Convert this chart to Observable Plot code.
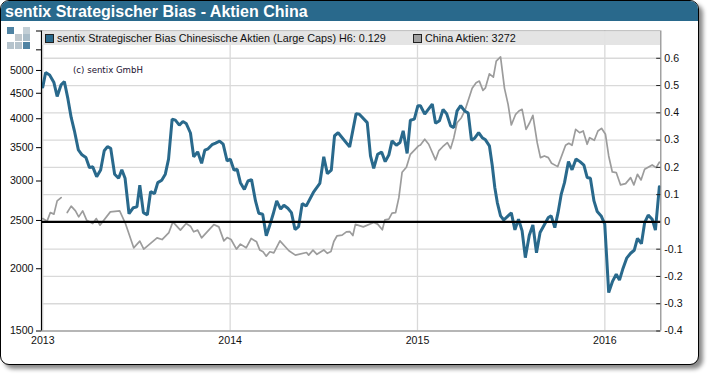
<!DOCTYPE html>
<html><head><meta charset="utf-8">
<script src="https://cdn.jsdelivr.net/npm/d3@7"></script>
<script src="https://cdn.jsdelivr.net/npm/@observablehq/plot@0.6"></script>
<style>
html,body{margin:0;padding:0;background:#fff;width:710px;height:376px;overflow:hidden}
#frame{position:absolute;left:0;top:0;width:697px;height:363px;border:1.5px solid #000;border-radius:9px;background:#fff;box-shadow:4px 4px 4px #8a8a8a;overflow:hidden}
#title{position:absolute;left:0;top:0;right:0;height:19.5px;background:#29698c;color:#fff;font:bold 16px "Liberation Sans",Arial,sans-serif;line-height:21px;padding-left:4px;white-space:nowrap}
#plot{position:absolute;left:0;top:0}
#plot svg{display:block;background:transparent;max-width:none}
#band{position:absolute;left:41.5px;top:31px;width:618px;height:14px;background:rgba(226,226,226,.92)}
.lg{position:absolute;top:31px;height:14px;font:10.8px "Liberation Sans",Arial,sans-serif;line-height:15px;color:#111;white-space:nowrap}
.sw{position:absolute;top:34px;width:7px;height:7px;border:1px solid #222}
#copy{position:absolute;left:73px;top:65px;font:8.6px "DejaVu Sans",sans-serif;color:#201030;white-space:nowrap}
.lo{position:absolute;width:6.5px;height:6.5px}
</style></head><body>
<div id="frame"><div id="title">sentix Strategischer Bias - Aktien China</div></div>
<div id="plot"></div>
<div id="band"></div>
<div class="sw" style="left:45px;background:#29698c"></div>
<div class="lg" style="left:57px">sentix Strategischer Bias Chinesische Aktien (Large Caps) H6: 0.129</div>
<div class="sw" style="left:413px;background:#a0a0a0"></div>
<div class="lg" style="left:425px">China Aktien: 3272</div>
<div id="copy">(c) sentix GmbH</div>
<div class="lo" style="left:7px;top:27px;background:#4f83a3"></div>
<div class="lo" style="left:23px;top:27px;background:#c3cfd6"></div>
<div class="lo" style="left:15px;top:34px;background:#c0c8cd"></div>
<div class="lo" style="left:23px;top:34px;background:#a9bcc8"></div>
<div class="lo" style="left:7px;top:42px;background:#b5c3cc"></div>
<div class="lo" style="left:15px;top:42px;background:#b5c3cc"></div>
<div class="lo" style="left:23px;top:42px;background:#4f83a3"></div>
<script>
// [weeks since 2013-01-01, value]
const biasSeries = [[0,.495],[.8,.548],[1.9,.539],[3.1,.511],[4,.46],[5.1,.503],[6,.515],[7,.451],[7.9,.383],[8.8,.334],[9.9,.264],[10.9,.246],[12,.236],[13,.199],[13.9,.202],[15,.166],[16.1,.19],[17.1,.261],[18,.276],[18.9,.27],[20,.175],[21.1,.16],[22,.191],[22.9,.16],[24,.03],[25.2,.052],[26.2,.055],[27,.135],[28,.034],[29.1,.026],[30,.111],[31.1,.104],[32,.144],[33.1,.153],[34.1,.175],[35,.23],[36,.377],[36.9,.373],[38,.355],[39,.368],[39.9,.361],[41.1,.326],[42,.239],[43.1,.257],[44.2,.215],[45.1,.263],[46,.268],[47.1,.283],[48.1,.289],[49.2,.296],[50.2,.285],[51.3,.224],[52.2,.23],[53.2,.19],[54.1,.193],[55,.144],[56.1,.119],[57.1,.15],[58.1,.155],[59.2,.077],[60.1,.032],[61.2,.028],[62.2,-.051],[63.2,-.011],[64.1,.028],[65.1,.077],[66.2,.047],[67.1,.061],[68.2,.05],[69.2,.034],[70.2,-.028],[71.2,-.017],[72.2,.067],[73.3,.058],[75.3,.108],[77.1,.141],[78.2,.239],[79.2,.177],[80.3,.19],[81.2,.316],[82.2,.327],[85.4,.275],[87.2,.397],[88.1,.395],[90.3,.364],[91.2,.242],[92.1,.196],[93.2,.248],[94.3,.256],[95.3,.221],[96.3,.245],[97.2,.297],[98.4,.281],[99.4,.291],[100.3,.334],[101.4,.251],[102.3,.373],[103.4,.377],[104.4,.426],[105.1,.426],[106.3,.395],[108.4,.432],[109.3,.362],[110.4,.371],[111.4,.412],[112.4,.397],[113.5,.352],[114.4,.346],[115.3,.407],[116.3,.426],[117.4,.407],[118.4,.399],[119.3,.3],[120.2,.307],[121.3,.327],[122.3,.309],[123.2,.301],[124.3,.279],[125.1,.206],[125.8,.126],[126.5,.071],[127.4,.022],[128.3,.007],[129.5,.022],[130.4,.033],[131.4,-.029],[132.4,.01],[133.4,-.033],[134.3,-.131],[135.4,-.049],[136.4,-.011],[137.4,-.113],[138.4,-.039],[139.4,-.015],[140.7,.016],[141.5,.022],[142.5,-.021],[143.4,.034],[144.3,.102],[145.2,.144],[146.3,.221],[147.3,.191],[148.4,.231],[149.5,.221],[150.6,.208],[151.5,.163],[152.4,.16],[153.4,.077],[154.3,.038],[155.4,.022],[156.4,-.008],[157.5,-.259],[158.6,-.217],[159.6,-.192],[160.5,-.213],[161.4,-.174],[162.5,-.133],[163.6,-.115],[164.6,-.104],[165.5,-.06],[166.6,-.08],[167.5,-.003],[168.5,.025],[169.6,.01],[170.5,-.03],[171.6,.129]];
const chinaSeries = [[0,2522],[1.2,2492],[2.1,2593],[3.1,2574],[4,2737],[5.1,2778],[6,null],[6.8,2593],[7.9,2671],[9.1,2613],[10,2542],[11.1,2613],[12.2,2503],[13.9,2465],[14.9,2522],[15.9,2446],[18.8,2601],[21.4,2613],[23,2465],[25.3,2203],[27,2272],[28.1,2190],[31.8,2307],[33.2,2289],[35.1,2364],[36.2,2484],[38.3,2391],[39.9,2465],[41.1,2435],[42,2372],[43.1,2391],[44.2,2307],[47.6,2453],[49,2427],[50.4,2275],[51.3,2310],[52.4,2289],[53.9,2190],[55,2241],[56.6,2203],[58,2300],[59.5,2265],[60.4,2180],[61.3,2163],[62.2,2120],[63.2,2163],[64.3,2152],[66,2275],[68.5,2173],[70.3,2130],[73.4,2156],[74,2130],[75.2,2180],[76.3,2138],[78.2,2181],[79.2,2148],[80.2,2165],[81,2268],[81.9,2329],[83.3,2336],[84.5,2372],[85.4,2375],[86.3,2332],[87,2455],[89.2,2427],[92.1,2476],[93.2,2458],[94.5,2394],[95.2,2507],[96.3,2515],[97.2,2586],[98.2,2593],[99.1,2778],[100,3124],[101.2,3197],[102.3,3394],[104.5,3526],[105.1,3543],[106.3,3638],[107.4,3555],[109.3,3307],[110.2,3447],[111.3,3515],[112.6,3581],[113.5,3484],[114.4,3665],[115.3,3927],[116.5,4019],[117.6,4178],[119.5,4603],[120.6,4723],[121.5,4760],[122.5,4561],[123.2,4615],[124.3,4923],[125.4,4848],[126.2,5220],[127.4,5325],[128.5,4603],[129.5,4275],[130.4,3886],[131.6,4083],[132.5,4146],[133.4,4178],[134.5,3809],[135.5,3927],[136.4,4064],[137.6,3581],[138.5,3342],[139.6,3368],[140.7,3342],[141.6,3256],[143.3,3206],[145.5,3538],[146.4,3571],[147.3,3538],[148.3,3809],[149.4,3750],[150.4,3780],[151.5,3555],[152.2,3665],[153.5,3621],[154.5,3780],[155.5,3827],[156.6,3722],[157.5,3368],[158.5,3128],[159.6,3119],[160.8,2946],[162.2,2964],[163.6,3047],[164.5,2946],[165.5,3095],[166.5,3015],[167.5,3167],[169.6,3231],[170.7,3191],[171.6,3272]];
const leftTicks = [1500,2000,2500,3000,3500,4000,4500,5000,5500,6000];
const leftLabelled = [1500,2000,2500,3000,3500,4000,4500,5000];
const rightTicks = [-0.4,-0.3,-0.2,-0.1,0,0.1,0.2,0.3,0.4,0.5,0.6];
const yearTicks = [2013,2014,2015,2016];

const weekDate = w => new Date(Date.UTC(2013,0,1) + w*7*864e5);
const xStart = new Date(Date.UTC(2012,11,29,12)), xEnd = new Date(Date.UTC(2016,3,19));
const years = yearTicks.map(y => new Date(Date.UTC(y,0,1)));
// the index runs on a log scale that shares the plot with the linear bias scale
const toBias = d3.scaleLog([1500,6000],[-0.4,0.7]);
const bias = biasSeries.map(([w,v]) => ({date:weekDate(w), v}));
const china = chinaSeries.map(([w,p]) => ({date:weekDate(w), v:p==null?NaN:toBias(p)}));
const font = '"Liberation Sans",Arial,sans-serif';

const chart = Plot.plot({
  width:710, height:376,
  marginLeft:41, marginRight:49.7, marginTop:30.5, marginBottom:45.5,
  style:{background:"transparent", fontFamily:font, fontSize:"10.6px", color:"#111"},
  x:{type:"utc", domain:[xStart,xEnd], label:null},
  y:{domain:[-0.4,0.7], label:null},
  marks:[
    Plot.gridX(years,{stroke:"#d9d9d9",strokeOpacity:1,strokeWidth:1.3}),
    Plot.gridY(rightTicks,{stroke:"#d9d9d9",strokeOpacity:1,strokeWidth:1.3}),
    Plot.line(china,{x:"date",y:"v",stroke:"#9c9c9c",strokeWidth:1.7,curve:"linear"}),
    Plot.line(bias,{x:"date",y:"v",stroke:"#29698c",strokeWidth:3,curve:"linear",strokeLinejoin:"miter"}),
    Plot.ruleY([0],{stroke:"#000",strokeWidth:2.4}),
    Plot.ruleY([-0.4,0.7],{stroke:"#8a8a8a",strokeWidth:1.2}),
    Plot.ruleX([xEnd],{stroke:"#8a8a8a",strokeWidth:1.2}),
    Plot.ruleX([xStart],{stroke:"#000",strokeWidth:1.2}),
    Plot.ruleY(rightTicks,{x1:new Date(+xEnd-8*864e5),x2:xEnd,stroke:"#222"}),
    Plot.axisX(years,{anchor:"bottom",tickSize:0,tickPadding:5,tickFormat:d=>String(d.getUTCFullYear()),label:null}),
    Plot.axisY(leftTicks.map(toBias),{anchor:"left",tickSize:5,tickPadding:3,stroke:"#000",
      tickFormat:d=>{const p=Math.round(toBias.invert(d));return leftLabelled.includes(p)?String(p):"";},label:null}),
    Plot.axisY(rightTicks,{anchor:"right",tickSize:0,tickPadding:3.5,tickFormat:d=>String(d),label:null})
  ]
});
document.getElementById("plot").append(chart);
</script>
</body></html>
